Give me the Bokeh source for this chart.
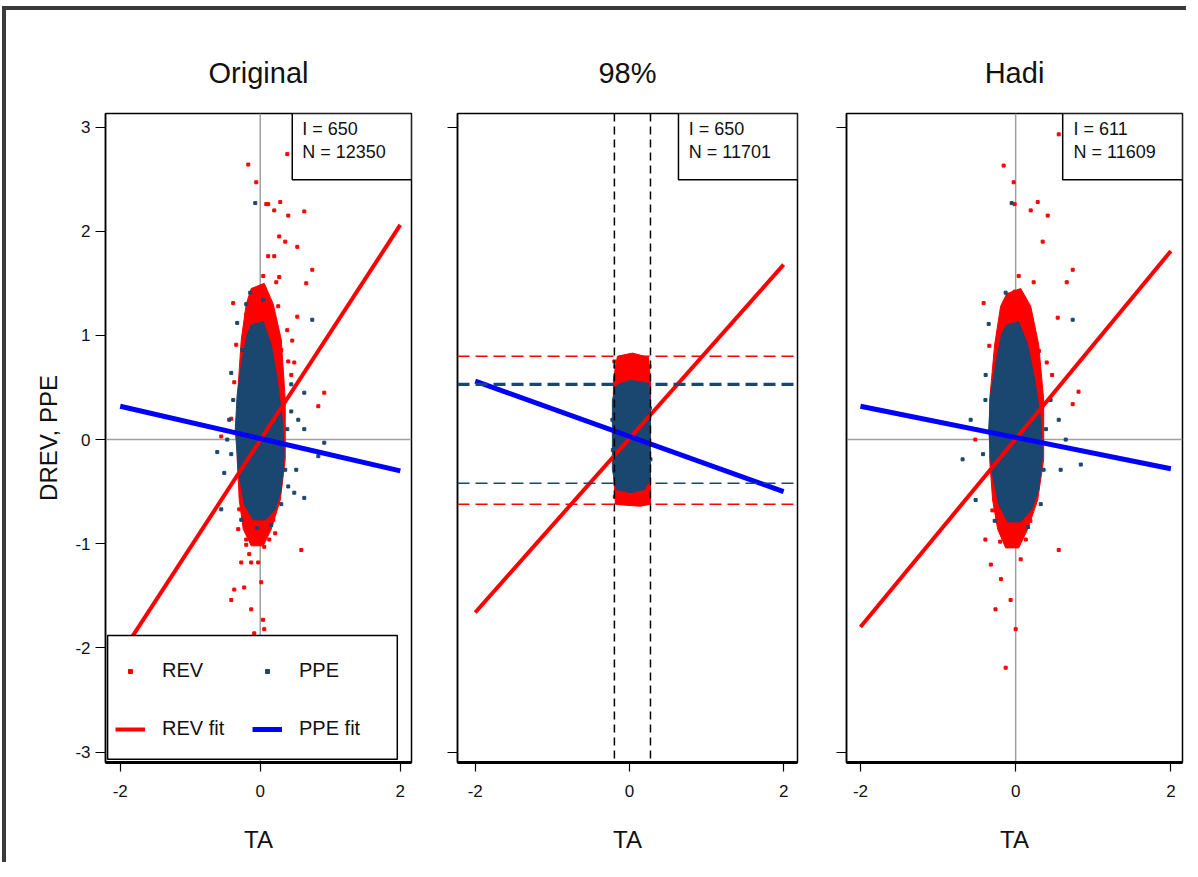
from bokeh.plotting import figure
from bokeh.layouts import row
from bokeh.models import Span, BoxAnnotation, Label, Legend, LegendItem, FixedTicker
from bokeh.embed import file_html
from bokeh.resources import INLINE

FONT = "Liberation Sans"
RED = "#ff0000"
NAVY = "#1a476f"
BLUE = "#0000ff"
GRAY = "#a0a0a0"
TXT = "#111111"

# ---------------- data ----------------
titles = ["Original", "98%", "Hadi"]
i_counts = [650, 650, 611]
n_counts = [12350, 11701, 11609]
x_ticks = [-2, 0, 2]
y_ticks = [-3, -2, -1, 0, 1, 2, 3]
y_ticks_short = [-3, 3]

fit_x = [-2, 2]
orig_rev_fit = [-2.07, 2.06]
orig_ppe_fit = [0.32, -0.30]
trim_rev_fit = [-1.66, 1.68]
trim_ppe_fit = [0.56, -0.50]
hadi_rev_fit = [-1.80, 1.81]
hadi_ppe_fit = [0.32, -0.28]

# 98% trimming bounds
trim_ta = [-0.195, 0.273]
trim_rev = [-0.62, 0.80]
trim_ppe = [-0.42, 0.53]

# dense cores of the clouds
orig_rev_core_x = [-0.129, 0.057, 0.186, 0.300, 0.357, 0.357, 0.286, 0.157, 0.043, -0.129, -0.243, -0.300, -0.329, -0.329, -0.271, -0.200]
orig_rev_core_y = [1.45, 1.50, 1.30, 0.96, 0.38, -0.19, -0.58, -0.86, -1.02, -1.02, -0.86, -0.58, -0.19, 0.38, 0.96, 1.30]
orig_ppe_core_x = [-0.129, 0.043, 0.157, 0.243, 0.314, 0.343, 0.300, 0.214, 0.071, -0.100, -0.229, -0.314, -0.357, -0.329, -0.257, -0.186]
orig_ppe_core_y = [1.10, 1.13, 0.91, 0.58, 0.19, -0.14, -0.48, -0.67, -0.77, -0.77, -0.62, -0.29, 0.10, 0.43, 0.77, 1.01]

trim_rev_core_x = [-0.156, 0.039, 0.247, 0.273, 0.273, 0.143, -0.052, -0.182, -0.208, -0.208]
trim_rev_core_y = [0.80, 0.83, 0.79, 0.58, -0.62, -0.64, -0.63, -0.62, -0.29, 0.58]
trim_ppe_core_x = [-0.169, 0.013, 0.234, 0.273, 0.273, 0.195, 0.013, -0.169, -0.221, -0.221]
trim_ppe_core_y = [0.52, 0.57, 0.54, 0.38, -0.36, -0.48, -0.51, -0.48, -0.29, 0.38]

hadi_rev_core_x = [-0.116, 0.065, 0.194, 0.297, 0.361, 0.361, 0.284, 0.155, 0.039, -0.129, -0.232, -0.297, -0.335, -0.335, -0.271, -0.194]
hadi_rev_core_y = [1.40, 1.45, 1.28, 0.91, 0.38, -0.19, -0.58, -0.86, -1.04, -1.04, -0.86, -0.58, -0.19, 0.38, 0.91, 1.28]
hadi_ppe_core_x = [-0.116, 0.039, 0.155, 0.245, 0.323, 0.348, 0.297, 0.206, 0.065, -0.103, -0.219, -0.310, -0.348, -0.323, -0.245, -0.181]
hadi_ppe_core_y = [1.10, 1.13, 0.91, 0.58, 0.19, -0.14, -0.48, -0.67, -0.79, -0.79, -0.62, -0.29, 0.10, 0.43, 0.77, 1.01]

# scattered observations outside the dense cores
orig_rev_x = [-0.171, 0.386, -0.057, 0.086, 0.114, 0.286, 0.200, 0.400, 0.629, 0.271, 0.357, 0.529, 0.114, 0.200, 0.743,
              0.043, 0.271, 0.229, 0.657, -0.014, -0.386, 0.529, 0.257, 0.914, 0.829, -0.371, -0.557, -0.314, 0.057, 0.586,
              -0.271, -0.129, -0.029, 0.014, -0.371, -0.229, -0.129, -0.414, 0.057, -0.086, 0.040, -0.200,
              -0.343, -0.243, 0.300, 0.400, 0.486, 0.443, -0.200, 0.129, 0.186, -0.300, -0.129, 0.100, 0.157, -0.200,
              -0.414, 0.386, 0.457, -0.157, 0.214]
orig_rev_y = [2.64, 2.74, 2.47, 2.26, 2.26, 2.28, 2.20, 2.15, 2.19, 1.95, 1.90, 1.85, 1.76, 1.76, 1.63,
              1.57, 1.56, 1.51, 1.50, 1.41, 1.31, 1.18, 1.28, 0.45, 0.32, 0.55, 0.03, -0.86, -1.03, -1.06,
              -1.18, -1.18, -1.18, -1.37, -1.44, -1.42, -1.63, -1.54, -1.82, -1.86, -1.73, -1.01,
              0.91, 0.70, 0.86, 0.75, 0.74, 0.62, -0.96, -0.96, -0.77, -0.67, 1.34, 1.38, 1.25, 1.20,
              0.20, 1.05, 0.95, -1.10, -0.90]
orig_ppe_x = [-0.071, -0.143, 0.743, -0.329, -0.414, -0.257, 0.629, 0.443, 0.543, 0.629, 0.914, 0.829, 0.514, 0.629,
              0.486, 0.300, -0.557, -0.614, -0.514, -0.443, -0.471, 0.443,
              -0.386, -0.414, 0.386, 0.357, -0.271, 0.157, -0.200, 0.043, -0.043, 0.400]
orig_ppe_y = [2.27, 1.41, 1.15, 1.12, 0.64, 0.86, 0.45, 0.27, 0.19, 0.10, -0.03, -0.16, -0.29, -0.56,
              -0.51, -0.62, -0.67, -0.12, -0.32, 0.19, 0.00, 0.53,
              0.38, -0.14, 0.10, -0.29, -0.77, -0.82, 1.30, 1.34, -0.85, -0.45]

trim_rev_x = [-0.195, 0.221, -0.117, 0.208, -0.182, 0.260, -0.190, 0.240]
trim_rev_y = [0.75, 0.75, -0.58, -0.61, 0.70, 0.70, -0.55, -0.50]
trim_ppe_x = [-0.221, 0.273, -0.215, 0.265]
trim_ppe_y = [0.19, -0.19, -0.10, 0.30]

hadi_rev_x = [0.555, -0.155, -0.026, -0.013, 0.284, 0.194, 0.413, 0.348, 0.735, 0.039, 0.232, 0.658, -0.013, -0.413,
              0.542, 0.810, 0.735, 0.555, -0.129, -0.320, -0.190, -0.065, -0.260, 0.000, -0.390, 0.065, -0.520,
              -0.340, -0.230, 0.300, 0.400, 0.470, -0.200, 0.130, 0.190, -0.300, -0.120, 0.100, 0.160]
hadi_rev_y = [2.93, 2.63, 2.47, 2.26, 2.28, 2.20, 2.15, 1.90, 1.63, 1.57, 1.51, 1.51, 1.42, 1.31,
              1.17, 0.46, 0.34, -1.06, -2.19, -1.20, -1.34, -1.54, -1.63, -1.82, -0.96, -1.15, 0.00,
              0.90, 0.70, 0.85, 0.74, 0.62, -0.98, -0.96, -0.78, -0.68, 1.34, 1.36, 1.24]
hadi_ppe_x = [-0.052, -0.129, 0.735, -0.348, -0.684, 0.839, 0.580, 0.450, 0.555, 0.645, -0.516, 0.323, -0.580, -0.387,
              -0.390, -0.420, 0.390, 0.360, -0.270, 0.160]
hadi_ppe_y = [2.27, 1.41, 1.15, 1.11, -0.19, -0.24, -0.29, 0.38, 0.19, 0.00, -0.58, -0.62, 0.19, 0.62,
              0.38, -0.14, 0.10, -0.29, -0.78, -0.84]

panels = [
    dict(title=titles[0], xr=(-2.21, 2.16), fw=306, bl=99, br=16,
         rev_core=(orig_rev_core_x, orig_rev_core_y), ppe_core=(orig_ppe_core_x, orig_ppe_core_y),
         rev=(orig_rev_x, orig_rev_y), ppe=(orig_ppe_x, orig_ppe_y),
         rev_fit=orig_rev_fit, ppe_fit=orig_ppe_fit, box_left=0.457, txt_x=0.60),
    dict(title=titles[1], xr=(-2.23, 2.18), fw=340, bl=30, br=18,
         rev_core=(trim_rev_core_x, trim_rev_core_y), ppe_core=(trim_ppe_core_x, trim_ppe_core_y),
         rev=(trim_rev_x, trim_rev_y), ppe=(trim_ppe_x, trim_ppe_y),
         rev_fit=trim_rev_fit, ppe_fit=trim_ppe_fit, box_left=0.636, txt_x=0.77),
    dict(title=titles[2], xr=(-2.18, 2.15), fw=336, bl=31, br=4,
         rev_core=(hadi_rev_core_x, hadi_rev_core_y), ppe_core=(hadi_ppe_core_x, hadi_ppe_core_y),
         rev=(hadi_rev_x, hadi_rev_y), ppe=(hadi_ppe_x, hadi_ppe_y),
         rev_fit=hadi_rev_fit, ppe_fit=hadi_ppe_fit, box_left=0.606, txt_x=0.745),
]

figs = []
for k, pd_ in enumerate(panels):
    p = figure(frame_width=pd_["fw"], frame_height=649, x_range=pd_["xr"], y_range=(-3.1, 3.13),
               output_backend="svg", toolbar_location=None,
               min_border_left=pd_["bl"], min_border_right=pd_["br"],
               min_border_top=103, min_border_bottom=100)
    p.title.text = pd_["title"]
    p.title.align = "center"
    p.title.text_font = FONT
    p.title.text_font_size = "29px"
    p.title.text_font_style = "normal"
    p.title.text_color = TXT
    p.title.standoff = 50
    p.xgrid.visible = False
    p.ygrid.visible = False
    p.outline_line_color = "black"
    p.outline_line_width = 1.5
    p.outline_line_alpha = 1
    p.background_fill_color = "white"
    p.border_fill_color = "white"

    # axes
    p.xaxis.ticker = FixedTicker(ticks=x_ticks)
    p.xaxis.major_label_overrides = {t: str(t) for t in x_ticks}
    p.xaxis.axis_label = "TA"
    p.xaxis.axis_label_text_font = FONT
    p.xaxis.axis_label_text_font_size = "24px"
    p.xaxis.axis_label_text_font_style = "normal"
    p.xaxis.axis_label_text_color = TXT
    p.xaxis.axis_label_standoff = 26
    p.xaxis.major_label_text_font = FONT
    p.xaxis.major_label_text_font_size = "17px"
    p.xaxis.major_label_text_color = TXT
    p.xaxis.major_label_standoff = 13
    p.xaxis.major_tick_out = 9
    p.xaxis.major_tick_in = 0
    p.xaxis.minor_tick_out = 0
    p.xaxis.minor_tick_in = 0
    p.xaxis.axis_line_width = 3
    p.xaxis.axis_line_color = "black"
    p.xaxis.major_tick_line_width = 1.2
    p.xaxis.major_tick_line_color = "black"

    if k == 0:
        p.yaxis.ticker = FixedTicker(ticks=y_ticks)
        p.yaxis.major_label_overrides = {t: str(t) for t in y_ticks}
        p.yaxis.axis_label = "DREV, PPE"
        p.yaxis.axis_label_text_font = FONT
        p.yaxis.axis_label_text_font_size = "24px"
        p.yaxis.axis_label_text_font_style = "normal"
        p.yaxis.axis_label_text_color = TXT
        p.yaxis.axis_label_standoff = 10
        p.yaxis.major_label_text_font = FONT
        p.yaxis.major_label_text_font_size = "17px"
        p.yaxis.major_label_text_color = TXT
        p.yaxis.major_label_standoff = 5
        p.yaxis.major_label_orientation = "horizontal"
    else:
        p.yaxis.ticker = FixedTicker(ticks=y_ticks_short)
        p.yaxis.major_label_overrides = {t: "" for t in y_ticks_short}
    p.yaxis.major_tick_out = 10
    p.yaxis.major_tick_in = 0
    p.yaxis.minor_tick_out = 0
    p.yaxis.minor_tick_in = 0
    p.yaxis.axis_line_width = 1.5
    p.yaxis.axis_line_color = "black"
    p.yaxis.major_tick_line_width = 1.2
    p.yaxis.major_tick_line_color = "black"

    if k != 1:
        p.add_layout(Span(location=0, dimension="height", line_color=GRAY, line_width=1.5, level="underlay"))
        p.add_layout(Span(location=0, dimension="width", line_color=GRAY, line_width=1.5, level="underlay"))

    # clouds
    p.patch(pd_["rev_core"][0], pd_["rev_core"][1], fill_color=RED, line_color=RED, line_width=1)
    r_rev = p.scatter(pd_["rev"][0], pd_["rev"][1], marker="square", size=3, color=RED)
    p.patch(pd_["ppe_core"][0], pd_["ppe_core"][1], fill_color=NAVY, line_color=NAVY, line_width=1)
    r_ppe = p.scatter(pd_["ppe"][0], pd_["ppe"][1], marker="square", size=3, color=NAVY)

    if k == 1:
        for v in trim_ta:
            p.add_layout(Span(location=v, dimension="height", line_color="black", line_width=1.5, line_dash="8 5"))
        for v in trim_rev:
            p.add_layout(Span(location=v, dimension="width", line_color=RED, line_width=1.5, line_dash="12 6"))
        p.add_layout(Span(location=trim_ppe[0], dimension="width", line_color=NAVY, line_width=1.5, line_dash="12 6"))
        p.add_layout(Span(location=trim_ppe[1], dimension="width", line_color=NAVY, line_width=3.2, line_dash="12 6"))

    r_rfit = p.line(fit_x, pd_["rev_fit"], line_color=RED, line_width=4)
    r_pfit = p.line(fit_x, pd_["ppe_fit"], line_color=BLUE, line_width=5)

    # info box
    p.add_layout(BoxAnnotation(left=pd_["box_left"], bottom=2.495, fill_color="white", fill_alpha=1,
                               line_color="black", line_alpha=1, line_width=1.5))
    p.add_layout(Label(x=pd_["txt_x"], y=2.98, text=f"I = {i_counts[k]}", text_font=FONT,
                       text_font_size="18px", text_baseline="middle", text_color=TXT))
    p.add_layout(Label(x=pd_["txt_x"], y=2.76, text=f"N = {n_counts[k]}", text_font=FONT,
                       text_font_size="18px", text_baseline="middle", text_color=TXT))

    if k == 0:
        p.add_layout(BoxAnnotation(left=-2.18, right=1.957, bottom=-3.07, top=-1.88, fill_color="white",
                                   fill_alpha=1, line_color="black", line_alpha=1, line_width=1.5))
        legend = Legend(items=[LegendItem(label="REV", renderers=[r_rev]),
                               LegendItem(label="REV fit", renderers=[r_rfit]),
                               LegendItem(label="PPE", renderers=[r_ppe]),
                               LegendItem(label="PPE fit", renderers=[r_pfit])],
                        ncols=2, location=(2, 10))
        legend.label_text_font = FONT
        legend.label_text_font_size = "20px"
        legend.label_text_color = TXT
        legend.glyph_width = 30
        legend.glyph_height = 10
        legend.label_height = 31
        legend.label_standoff = 17
        legend.label_width = 63
        legend.padding = 8
        legend.spacing = 27
        legend.margin = 0
        legend.border_line_alpha = 0
        legend.background_fill_alpha = 0
        p.add_layout(legend)

    figs.append(p)

layout = row(*figs, spacing=0,
             styles={"border-top": "4px solid #3a3a3a", "border-left": "4px solid #3a3a3a",
                     "margin-top": "6px", "margin-left": "2px"})

open("out.html", "w").write(file_html(layout, INLINE))
